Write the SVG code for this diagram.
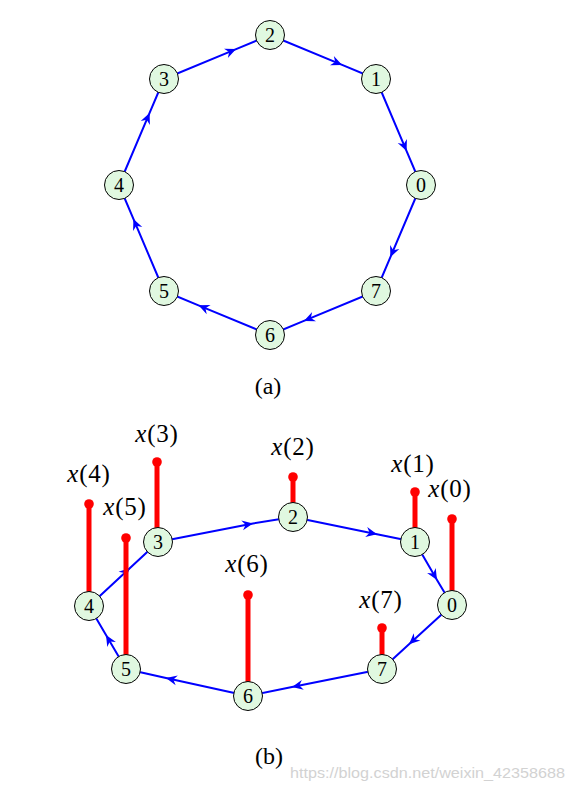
<svg xmlns="http://www.w3.org/2000/svg" width="572" height="794" viewBox="0 0 572 794">
<style>
.edge{fill:none;stroke:#0000ff;stroke-width:2;marker-mid:url(#ah)}
.node circle{fill:#e0f8e0;stroke:#000;stroke-width:1}
.node text{font-family:"Liberation Serif","Times New Roman",serif;font-size:20px;text-anchor:middle;fill:#000}
.stem line{stroke:#ff0000;stroke-width:5}
.stem circle{fill:#ff0000}
.lbl{font-family:"Liberation Serif","Times New Roman",serif;font-size:25px;letter-spacing:0.8px;text-anchor:middle;fill:#000}
.lbl .v{font-style:italic}
.cap{font-family:"Liberation Serif","Times New Roman",serif;font-size:24px;text-anchor:middle;fill:#000}
.wm{font-family:"Liberation Sans",Arial,sans-serif;font-size:14.5px;fill:#d2d2d2}
</style>
<defs>
<marker id="ah" markerUnits="userSpaceOnUse" viewBox="-12 -6 13 12" refX="0" refY="0" markerWidth="13" markerHeight="12" orient="auto" overflow="visible">
<path d="M0,0 L-11,-5 L-7.5,0 L-11,5 Z" fill="#0000ff"/>
</marker>
</defs>
<rect width="572" height="794" fill="#fff"/>

<!-- (a) connectors -->
<g id="connectors-a">
<polyline class="edge" points="164,79 236.1,49.1 270,35"/>
<polyline class="edge" points="270,35 342.1,64.9 376,79"/>
<polyline class="edge" points="376,79 406.6,151.1 421,185"/>
<polyline class="edge" points="421,185 390.4,257.1 376,291"/>
<polyline class="edge" points="376,291 303.9,320.9 270,335"/>
<polyline class="edge" points="270,335 198.5,305.3 164,291"/>
<polyline class="edge" points="164,291 133.4,218.9 119,185"/>
<polyline class="edge" points="119,185 149.6,112.9 164,79"/>
</g>
<!-- (a) nodes -->
<g id="a-node-0" class="node"><circle cx="421" cy="185" r="14.5"/><text x="421" y="192">0</text></g>
<g id="a-node-1" class="node"><circle cx="376" cy="79" r="14.5"/><text x="376" y="86">1</text></g>
<g id="a-node-2" class="node"><circle cx="270" cy="35" r="14.5"/><text x="270" y="42">2</text></g>
<g id="a-node-3" class="node"><circle cx="164" cy="79" r="14.5"/><text x="164" y="86">3</text></g>
<g id="a-node-4" class="node"><circle cx="119" cy="185" r="14.5"/><text x="119" y="192">4</text></g>
<g id="a-node-5" class="node"><circle cx="164" cy="291" r="14.5"/><text x="164" y="298">5</text></g>
<g id="a-node-6" class="node"><circle cx="270" cy="335" r="14.5"/><text x="270" y="342">6</text></g>
<g id="a-node-7" class="node"><circle cx="376" cy="291" r="14.5"/><text x="376" y="298">7</text></g>
<text class="cap" x="268" y="394">(a)</text>

<!-- (b) connectors -->
<g id="connectors-b">
<polyline class="edge" points="158,542 253,523.4 293,517"/>
<polyline class="edge" points="293,517 377,534.2 415,542"/>
<polyline class="edge" points="415,542 437,580 452,605"/>
<polyline class="edge" points="452,605 409,644.3 382,669"/>
<polyline class="edge" points="382,669 292,687.1 248,696"/>
<polyline class="edge" points="248,696 166,677.9 126,669"/>
<polyline class="edge" points="126,669 106,635 89,606"/>
<polyline class="edge" points="89,606 130,568 158,542"/>
</g>
<!-- (b) stems -->
<g id="stems">
<g id="stem-0" class="stem"><line x1="452" y1="519" x2="452" y2="605"/><circle cx="452" cy="519" r="4.8"/></g>
<g id="stem-1" class="stem"><line x1="415" y1="492" x2="415" y2="542"/><circle cx="415" cy="492" r="4.8"/></g>
<g id="stem-2" class="stem"><line x1="293" y1="477" x2="293" y2="517"/><circle cx="293" cy="477" r="4.8"/></g>
<g id="stem-3" class="stem"><line x1="157" y1="462" x2="157" y2="542"/><circle cx="157" cy="462" r="4.8"/></g>
<g id="stem-4" class="stem"><line x1="89" y1="504" x2="89" y2="606"/><circle cx="89" cy="504" r="4.8"/></g>
<g id="stem-5" class="stem"><line x1="126" y1="538" x2="126" y2="669"/><circle cx="126" cy="538" r="4.8"/></g>
<g id="stem-6" class="stem"><line x1="248" y1="595" x2="248" y2="696"/><circle cx="248" cy="595" r="4.8"/></g>
<g id="stem-7" class="stem"><line x1="382" y1="628" x2="382" y2="669"/><circle cx="382" cy="628" r="4.8"/></g>
</g>
<!-- (b) nodes -->
<g id="b-node-0" class="node"><circle cx="452" cy="605" r="14.5"/><text x="452" y="612">0</text></g>
<g id="b-node-1" class="node"><circle cx="415" cy="542" r="14.5"/><text x="415" y="549">1</text></g>
<g id="b-node-2" class="node"><circle cx="293" cy="517" r="14.5"/><text x="293" y="524">2</text></g>
<g id="b-node-3" class="node"><circle cx="158" cy="542" r="14.5"/><text x="158" y="549">3</text></g>
<g id="b-node-4" class="node"><circle cx="89" cy="606" r="14.5"/><text x="89" y="613">4</text></g>
<g id="b-node-5" class="node"><circle cx="126" cy="669" r="14.5"/><text x="126" y="676">5</text></g>
<g id="b-node-6" class="node"><circle cx="248" cy="696" r="14.5"/><text x="248" y="703">6</text></g>
<g id="b-node-7" class="node"><circle cx="382" cy="669" r="14.5"/><text x="382" y="676">7</text></g>
<!-- (b) labels -->
<g id="labels">
<text class="lbl" x="450" y="497"><tspan class="v">x</tspan>(0)</text>
<text class="lbl" x="413" y="472"><tspan class="v">x</tspan>(1)</text>
<text class="lbl" x="293" y="455"><tspan class="v">x</tspan>(2)</text>
<text class="lbl" x="157" y="442"><tspan class="v">x</tspan>(3)</text>
<text class="lbl" x="89" y="482"><tspan class="v">x</tspan>(4)</text>
<text class="lbl" x="125" y="515"><tspan class="v">x</tspan>(5)</text>
<text class="lbl" x="247" y="572"><tspan class="v">x</tspan>(6)</text>
<text class="lbl" x="381" y="608"><tspan class="v">x</tspan>(7)</text>
</g>
<text class="cap" x="269" y="764">(b)</text>
<text class="wm" x="290" y="778" textLength="275" lengthAdjust="spacingAndGlyphs">https://blog.csdn.net/weixin_42358688</text>
</svg>
